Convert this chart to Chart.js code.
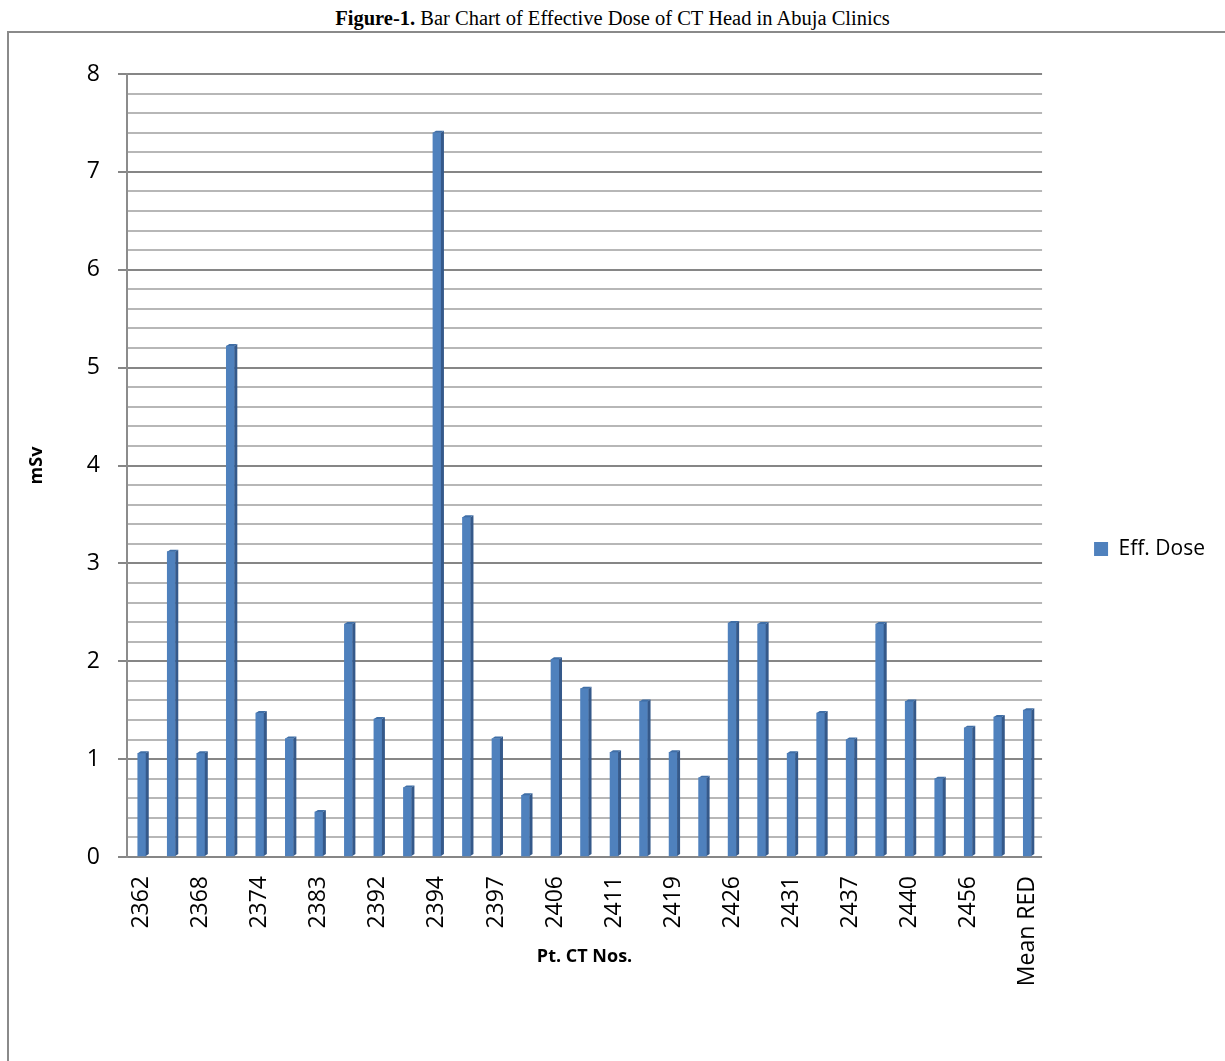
<!DOCTYPE html>
<html>
<head>
<meta charset="utf-8">
<script src="https://cdn.jsdelivr.net/npm/chart.js@4.4.1/dist/chart.umd.min.js"></script>
<style>
  html, body { margin: 0; padding: 0; background: #fff; }
  body { width: 1225px; height: 1061px; position: relative; overflow: hidden; }
  #caption {
    position: absolute; top: 6px; left: 0; width: 1225px; text-align: center;
    font-family: "Liberation Serif", "Times New Roman", serif; font-size: 20.5px; color: #000;
    line-height: 24px;
  }
  #frame {
    position: absolute; left: 7px; top: 31px; width: 1240px; height: 1060px;
    border: 2px solid #8a8a8a; box-sizing: border-box;
  }
  canvas { position: absolute; left: 0; top: 0; }
</style>
</head>
<body>
<div id="caption"><b>Figure-1.</b> Bar Chart of Effective Dose of CT Head in Abuja Clinics</div>
<div id="frame"></div>
<canvas id="chart" width="1225" height="1061"></canvas>
<script>
// Patient CT numbers (every second one is labelled on the axis)
const categories = [
  '2362', '2365', '2368', '2371', '2374', '2378', '2383', '2388', '2392', '2393',
  '2394', '2396', '2397', '2402', '2406', '2409', '2411', '2415', '2419', '2423',
  '2426', '2428', '2431', '2434', '2437', '2439', '2440', '2450', '2456', '2460',
  'Mean RED'
];

// Effective dose per patient, mSv
const effDose = [
  1.06, 3.12, 1.06, 5.22, 1.47, 1.21, 0.46, 2.38, 1.41, 0.71,
  7.40, 3.47, 1.21, 0.63, 2.02, 1.72, 1.07, 1.59, 1.07, 0.81,
  2.39, 2.38, 1.06, 1.47, 1.20, 2.38, 1.59, 0.80, 1.32, 1.43,
  1.50
];

const yMin = 0;
const yMax = 8;
const yStep = 0.2;

const seriesName = 'Eff. Dose';
const xTitle = 'Pt. CT Nos.';
const yTitle = 'mSv';

const isMajor = v => Math.abs(v - Math.round(v)) < 1e-6;

// Gives each bar a shaded side and top face
const bar3d = {
  id: 'bar3d',
  afterDatasetsDraw(chart) {
    const ctx = chart.ctx;
    const meta = chart.getDatasetMeta(0);
    const dx = 3, dy = 2;
    meta.data.forEach(el => {
      const { x, y, base, width } = el.getProps(['x', 'y', 'base', 'width'], true);
      const l = x - width / 2, r = x + width / 2;
      ctx.save();
      ctx.fillStyle = '#35598a';
      ctx.beginPath();
      ctx.moveTo(r, y);
      ctx.lineTo(r + dx, y - dy);
      ctx.lineTo(r + dx, base - dy);
      ctx.lineTo(r, base);
      ctx.closePath();
      ctx.fill();
      ctx.fillStyle = '#3f6ea6';
      ctx.beginPath();
      ctx.moveTo(l, y);
      ctx.lineTo(l + dx, y - dy);
      ctx.lineTo(r + dx, y - dy);
      ctx.lineTo(r, y);
      ctx.closePath();
      ctx.fill();
      ctx.restore();
    });
  }
};

const font = 'Open Sans';

new Chart(document.getElementById('chart'), {
  type: 'bar',
  data: {
    labels: categories,
    datasets: [{
      label: seriesName,
      data: effDose,
      backgroundColor: '#4f81bd',
      borderWidth: 0,
      barThickness: 8
    }]
  },
  options: {
    responsive: false,
    animation: false,
    layout: { padding: { left: 10, right: 10, top: 74, bottom: 37 } },
    plugins: {
      legend: {
        position: 'right',
        labels: {
          boxWidth: 14, boxHeight: 14, padding: 52,
          font: { family: font, size: 21 }, color: '#000'
        }
      },
      tooltip: { enabled: false }
    },
    scales: {
      x: {
        ticks: {
          autoSkip: false, maxRotation: 90, minRotation: 90,
          callback: (v, i) => (i % 2 === 0 ? categories[i] : ''),
          font: { family: font, size: 23 }, color: '#000', padding: 19
        },
        grid: { display: false, drawTicks: false },
        border: { display: false },
        title: {
          display: true, text: xTitle, color: '#000',
          font: { family: font, size: 18, weight: 'bold' },
          padding: { top: 0, bottom: 56 }
        },
        afterFit: s => { s.height = 167; }
      },
      y: {
        min: yMin, max: yMax,
        ticks: {
          stepSize: yStep, autoSkip: false,
          callback: v => (isMajor(v) ? String(Math.round(v)) : ''),
          font: { family: font, size: 23 }, color: '#000', padding: 18
        },
        grid: {
          color: c => (isMajor(c.tick.value) ? '#868686' : '#b7b7b7'),
          tickColor: c => (isMajor(c.tick.value) ? '#868686' : 'rgba(0,0,0,0)'),
          lineWidth: 2, tickLength: 9
        },
        border: { color: '#8c8c8c', width: 2 },
        title: {
          display: true, text: yTitle, color: '#000',
          font: { family: font, size: 18, weight: 'bold' },
          padding: { top: 16, bottom: 0 }
        },
        afterFit: s => { s.width = 117; }
      }
    }
  },
  plugins: [bar3d]
});
</script>
</body>
</html>
